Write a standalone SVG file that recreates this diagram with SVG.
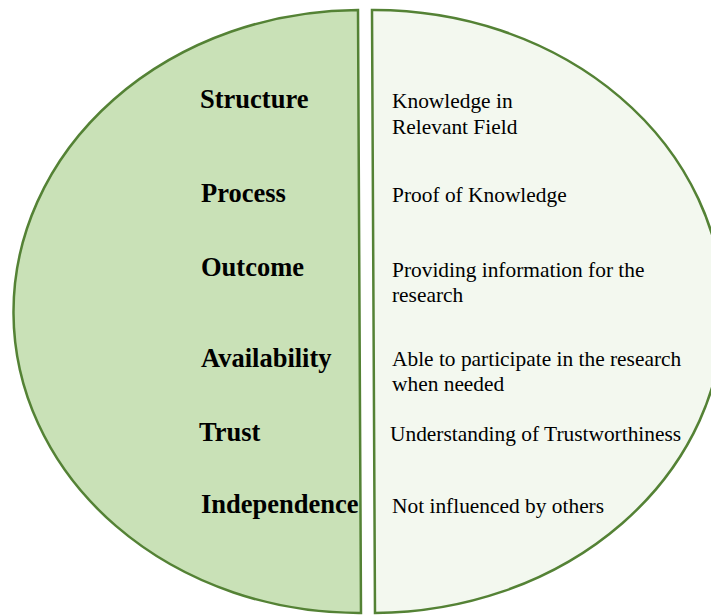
<svg xmlns="http://www.w3.org/2000/svg" width="711" height="615" viewBox="0 0 711 615">
<style>
.half{stroke:#548235;stroke-width:2.5}
.lbl{font-family:"Liberation Serif","Times New Roman",serif;font-weight:bold;font-size:26.5px;fill:#000}
.desc{font-family:"Liberation Serif","Times New Roman",serif;font-size:21.4px;fill:#000}
</style>
<rect width="711" height="615" fill="#fff"/>
<g id="left-half">
<path class="half" d="M358,10 A346,301.5 -0.285 0 0 361,613 Z" fill="#c9e1b7"/>
<text class="lbl" x="200" y="108">Structure</text>
<text class="lbl" x="201" y="202">Process</text>
<text class="lbl" x="201" y="276">Outcome</text>
<text class="lbl" x="201" y="367">Availability</text>
<text class="lbl" x="199" y="441">Trust</text>
<text class="lbl" x="201" y="513">Independence</text>
</g>
<g id="right-half">
<path class="half" d="M372,10 A350,301.5 -0.285 0 1 375,613 Z" fill="#f3f8ef"/>
<text class="desc" x="392" y="108">Knowledge in</text>
<text class="desc" x="392" y="134">Relevant Field</text>
<text class="desc" x="392" y="202">Proof of Knowledge</text>
<text class="desc" x="392" y="277">Providing information for the</text>
<text class="desc" x="392" y="302">research</text>
<text class="desc" x="392" y="366">Able to participate in the research</text>
<text class="desc" x="392" y="391">when needed</text>
<text class="desc" x="390" y="441">Understanding of Trustworthiness</text>
<text class="desc" x="392" y="513">Not influenced by others</text>
</g>
<g id="connectors"></g>
</svg>
